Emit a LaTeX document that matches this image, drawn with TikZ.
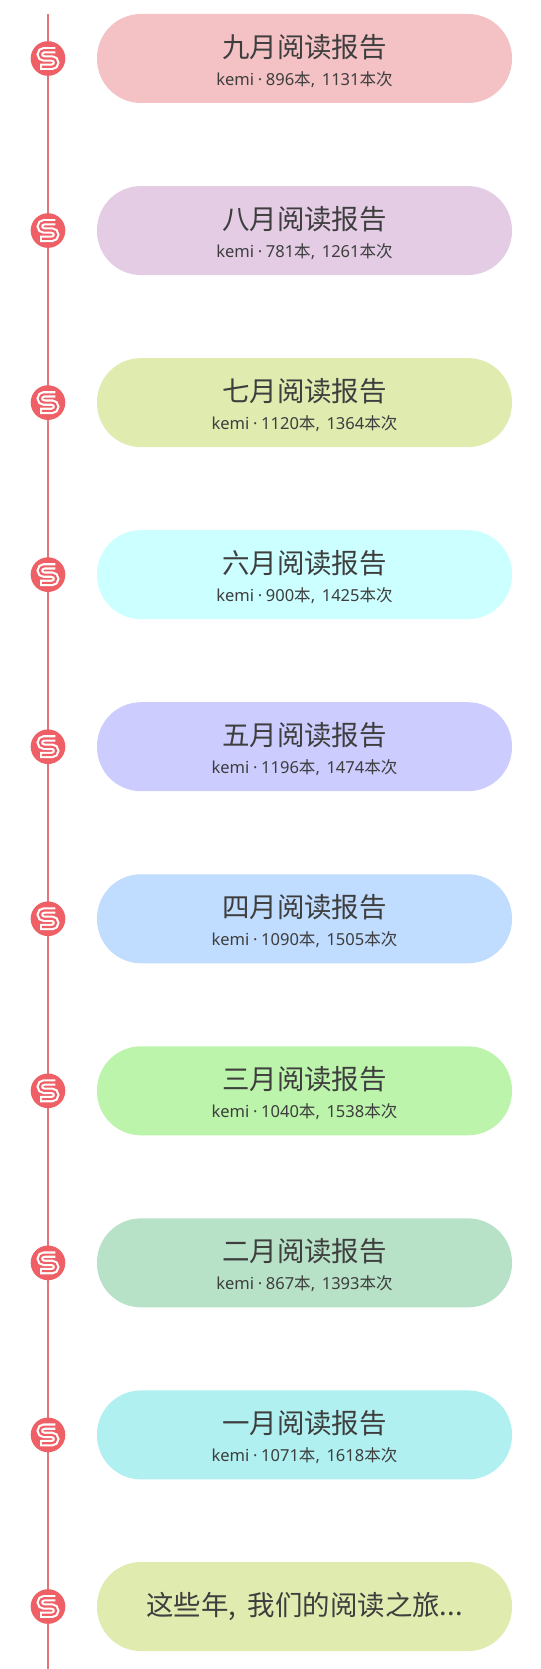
\documentclass[tikz,border=0pt]{standalone}
\usepackage{fontspec}
\setmainfont{Noto Sans}
\newfontfamily\cjk{Noto Sans CJK SC}
\usepackage{xcolor}
\usetikzlibrary{positioning}
\definecolor{linered}{RGB}{226,116,122}
\definecolor{iconred}{RGB}{238,96,102}
\definecolor{textgray}{RGB}{62,62,62}
\definecolor{pinkfill}{RGB}{244,194,197}
\definecolor{purplefill}{RGB}{228,205,228}
\definecolor{limefill}{RGB}{224,235,176}
\definecolor{cyanfill}{RGB}{204,255,255}
\definecolor{lavenderfill}{RGB}{204,204,255}
\definecolor{bluefill}{RGB}{192,220,255}
\definecolor{greenfill}{RGB}{188,244,172}
\definecolor{mintfill}{RGB}{184,226,200}
\definecolor{aquafill}{RGB}{176,240,240}
\tikzset{
    pill/.style={fill=#1, rounded corners=33pt, minimum width=311.25pt, minimum height=66.75pt,
        inner sep=0pt, align=center, text=textgray},
    badge/.style={circle, fill=iconred, minimum size=26pt, inner sep=0pt},
    title/.style={font=\cjk\fontsize{20.6}{24}\selectfont},
    sub/.style={font=\fontsize{12.4}{14}\selectfont},
    snake/.pic={
        \draw[white, line width=4.8pt] (5.6pt,6.2pt) -- (-3pt,6.2pt)
            arc[start angle=90, end angle=270, radius=3.1pt] -- (3pt,0pt)
            arc[start angle=90, end angle=-90, radius=3.1pt] -- (-6pt,-6.2pt);
        \draw[iconred, line width=1.6pt] (6pt,6.2pt) -- (-3pt,6.2pt)
            arc[start angle=90, end angle=270, radius=3.1pt] -- (3pt,0pt)
            arc[start angle=90, end angle=-90, radius=3.1pt] -- (-4.6pt,-6.2pt);
    }
}
\newcommand{\subline}[2]{kemi\hspace{0.22em}·\hspace{0.22em}#1{\cjk 本},\hspace{0.4em}#2{\cjk 本次}}
\begin{document}
\begin{tikzpicture}[x=0.75pt, y=-0.75pt]
    % Canvas
    \useasboundingbox[fill=white] (0,0) rectangle (540,1669);
    % Timeline
    \coordinate (linetop) at (48,14);
    \coordinate (lineend) at (48,1669);
    \draw[linered, line width=1.3pt] (linetop) -- (lineend);
    % Months
    \foreach \n/\col/\name/\books/\times in {
        0/pinkfill/九/896/1131,
        1/purplefill/八/781/1261,
        2/limefill/七/1120/1364,
        3/cyanfill/六/900/1425,
        4/lavenderfill/五/1196/1474,
        5/bluefill/四/1090/1505,
        6/greenfill/三/1040/1538,
        7/mintfill/二/867/1393,
        8/aquafill/一/1071/1618} {
        \node[badge] (icon\n) at (48, {58.5+172.05*\n}) {};
        \pic at (icon\n) {snake};
        \node[pill=\col] (report\n) at (304.5, {58.5+172.05*\n}) {};
        \node[title, text=textgray] (head\n) at ([yshift=8.5pt]report\n.center) {\name 月阅读报告};
        \node[sub, text=textgray] (info\n) at ([yshift=-15.5pt]report\n.center) {\subline{\books}{\times}};
    }
    % Last one
    \node[badge] (icon9) at (48,1606.5) {};
    \pic at (icon9) {snake};
    \node[pill=limefill, title] (report9) at (304.5,1606.5) {这些年,\hspace{0.2em} 我们的阅读之旅...};
\end{tikzpicture}
\end{document}
